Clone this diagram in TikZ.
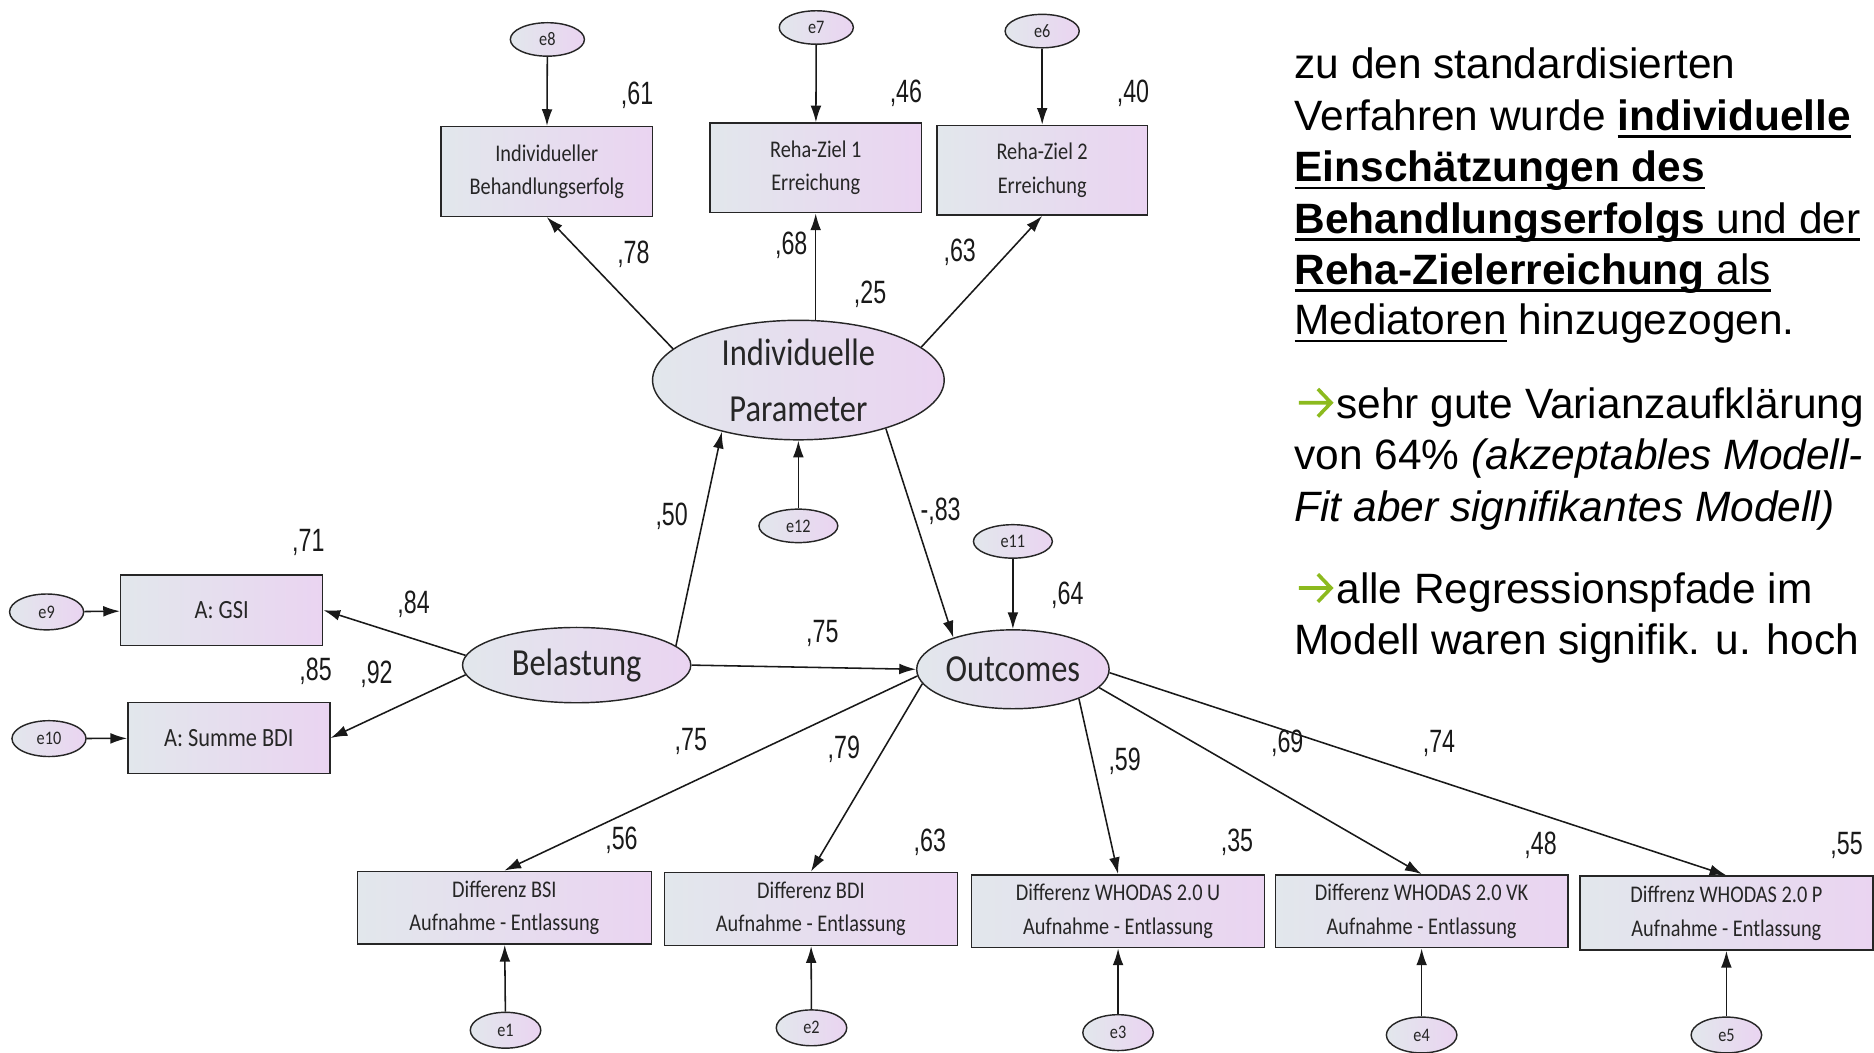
\documentclass[tikz,border=0pt]{standalone}
\usepackage{fontspec}
\usetikzlibrary{arrows.meta,shapes.geometric}
\newfontfamily\arialf{Liberation Sans}
\newfontfamily\narrowf[FakeStretch=0.72]{Liberation Sans}
\newfontfamily\calf[FakeStretch=0.85]{Carlito}
\definecolor{gL}{RGB}{226,231,236}
\definecolor{gR}{RGB}{234,212,241}
\definecolor{agreen}{RGB}{140,186,30}
\newcommand\myul[1]{\sbox0{#1}\rlap{\rule[-6.5pt]{\wd0}{2.4pt}}\usebox0}
\newcommand\greenarrow{\tikz[baseline=0pt,x=1pt,y=1pt]\draw[agreen,line width=3pt,line join=miter] (0,13)--(27,13) (16,1.5)--(27,13)--(16,24.5);\hspace{3pt}}
\tikzset{
 basefill/.style={draw=black!85, line width=1.2pt, left color=gL, right color=gR, inner sep=0pt},
 obox/.style={basefill, rectangle, font=\calf\fontsize{20}{28}\selectfont, align=center, text=black!85},
 lat/.style={basefill, ellipse, font=\calf\fontsize{32}{47}\selectfont, text=black!85},
 lattxt/.style={font=\calf\fontsize{32}{47}\selectfont, align=center, text=black!85, inner sep=0pt},
 err/.style={basefill, ellipse, minimum width=62, minimum height=28, font=\calf\fontsize{16}{18}\selectfont, text=black!85},
 coef/.style={font=\narrowf\fontsize{27}{30}\selectfont, inner sep=0pt, text=black!90},
 arr/.style={-{Latex[length=14pt,width=9pt]}, line width=1.3pt, black!90},
 txt/.style={anchor=base west, inner sep=0pt, font=\arialf\fontsize{35.5}{43}\selectfont},
}
\begin{document}
\begin{tikzpicture}[x=1pt,y=-1pt]
\fill[white] (0,0) rectangle (1568,881);
\useasboundingbox (0,0) rectangle (1568,881);

% observed boxes
\node[obox, minimum width=177, minimum height=75] (b8) at (457.5,143.5) {Individueller\\Behandlungserfolg};
\node[obox, minimum width=177, minimum height=75] (b7) at (682.5,140.5) {Reha-Ziel 1\\Erreichung};
\node[obox, minimum width=176, minimum height=75] (b6) at (872,142.5) {Reha-Ziel 2\\Erreichung};
\node[obox, minimum width=169, minimum height=59, font=\calf\fontsize{22}{26}\selectfont] (gsi) at (185.5,510.5) {A: GSI};
\node[obox, minimum width=169, minimum height=59, font=\calf\fontsize{22}{26}\selectfont] (bdi) at (191.5,617.5) {A: Summe BDI};
\node[obox, minimum width=246, minimum height=61] (d1) at (422,759.5) {Differenz BSI\\Aufnahme - Entlassung};
\node[obox, minimum width=245, minimum height=61] (d2) at (678.5,760.5) {Differenz BDI\\Aufnahme - Entlassung};
\node[obox, minimum width=245, minimum height=61] (d3) at (935.5,762.5) {Differenz WHODAS 2.0 U\\Aufnahme - Entlassung};
\node[obox, minimum width=245, minimum height=61] (d4) at (1189.5,762.5) {Differenz WHODAS 2.0 VK\\Aufnahme - Entlassung};
\node[obox, minimum width=245, minimum height=62] (d5) at (1444.5,764) {Diffrenz WHODAS 2.0 P\\Aufnahme - Entlassung};

% latent variables
\node[lat, minimum width=244, minimum height=100, label={[lattxt, name=iptxt]center:Individuelle\\Parameter}] (ip) at (668,318) {};
\node[lat, minimum width=191, minimum height=63] (bel) at (482.5,556.5) {Belastung};
\node[lat, minimum width=161, minimum height=66] (out) at (847.5,560) {Outcomes};

% error terms
\node[err] (e8) at (458,33) {e8};
\node[err] (e7) at (683,23) {e7};
\node[err] (e6) at (872,26) {e6};
\node[err, minimum width=66] (e12) at (668,440) {e12};
\node[err, minimum width=66] (e11) at (847.5,453) {e11};
\node[err, minimum height=30] (e9) at (39,512) {e9};
\node[err, minimum height=30] (e10) at (41,618) {e10};
\node[err, minimum width=59, minimum height=30] (e1) at (423,862) {e1};
\node[err, minimum width=59, minimum height=30] (e2) at (679,860) {e2};
\node[err, minimum width=59, minimum height=30] (e3) at (935.5,864) {e3};
\node[err, minimum width=59, minimum height=30] (e4) at (1189.5,866) {e4};
\node[err, minimum width=59, minimum height=30] (e5) at (1444.5,866) {e5};

% error arrows
\draw[arr] (e8) -- (b8);
\draw[arr] (e7) -- (b7);
\draw[arr] (e6) -- (b6);
\draw[arr] (e12) -- (ip);
\draw[arr] (e11) -- (out);
\draw[arr] (e9) -- (gsi);
\draw[arr] (e10) -- (bdi);
\draw[arr] (e1) -- (d1);
\draw[arr] (e2) -- (d2);
\draw[arr] (e3) -- (d3);
\draw[arr] (e4) -- (d4);
\draw[arr] (e5) -- (d5);

% structural paths
\draw[arr] (ip.166) -- (b8.south);
\draw[arr] (b7.south |- ip.north) -- (b7.south);
\draw[arr] (ip.15) -- (b6.south);
\draw[arr] (bel.11) -- (ip.214);
\draw[arr] (ip.-29) -- (out.152);
\draw[arr] (bel.east) -- (out.west);
\draw[arr] (bel.175) -- (gsi.east);
\draw[arr] (bel.185) -- (bdi.east);
\draw[arr] (out.184) -- (d1.north);
\draw[arr] (out.189) -- (d2.north);
\draw[arr] (out.-24) -- (d3.north);
\draw[arr] (out.-12) -- (d4.north);
\draw[arr] (out.-2) -- (d5.north);

% coefficients
\node[coef] (r8) at (533,80) {,61};
\node[coef] (r7) at (758,78) {,46};
\node[coef] (r6) at (948,78) {,40};
\node[coef] (c78) at (530,213) {,78};
\node[coef] (c68) at (662,205) {,68};
\node[coef] (c63a) at (803,211) {,63};
\node[coef] (r25) at (728,246) {,25};
\node[coef] (c50) at (562,432) {,50};
\node[coef] (c83) at (787,428) {-,83};
\node[coef] (r64) at (893,498) {,64};
\node[coef] (c75a) at (688,530) {,75};
\node[coef] (r71) at (258,454) {,71};
\node[coef] (c84) at (346,506) {,84};
\node[coef] (r85) at (264,562) {,85};
\node[coef] (c92) at (315,564) {,92};
\node[coef] (c75b) at (578,620) {,75};
\node[coef] (c79) at (706,627) {,79};
\node[coef] (c59) at (941,637) {,59};
\node[coef] (c69) at (1077,622) {,69};
\node[coef] (c74) at (1204,622) {,74};
\node[coef] (r56) at (520,703) {,56};
\node[coef] (r63) at (778,705) {,63};
\node[coef] (r35) at (1035,705) {,35};
\node[coef] (r48) at (1289,707) {,48};
\node[coef] (r55) at (1545,707) {,55};

% text block
\node[txt] (t1) at (1083,66) {zu den standardisierten};
\node[txt] (t2) at (1083,109) {Verfahren wurde \myul{\textbf{individuelle}}};
\node[txt] (t3) at (1083,152) {\myul{\textbf{Einschätzungen des}}};
\node[txt] (t4) at (1083,195) {\myul{\textbf{Behandlungserfolgs} und der}};
\node[txt] (t5) at (1083,238) {\myul{\textbf{Reha-Zielerreichung} als}};
\node[txt] (t6) at (1083,280) {\myul{Mediatoren} hinzugezogen.};
\node[txt] (t7) at (1085,350) {\greenarrow sehr gute Varianzaufklärung};
\node[txt] (t8) at (1083,393) {von 64\% \textit{(akzeptables Modell-}};
\node[txt] (t9) at (1083,436) {\textit{Fit aber signifikantes Modell)}};
\node[txt] (t10) at (1085,505) {\greenarrow alle Regressionspfade im};
\node[txt] (t11) at (1083,548) {Modell waren signifik. u. hoch};
\end{tikzpicture}
\end{document}
